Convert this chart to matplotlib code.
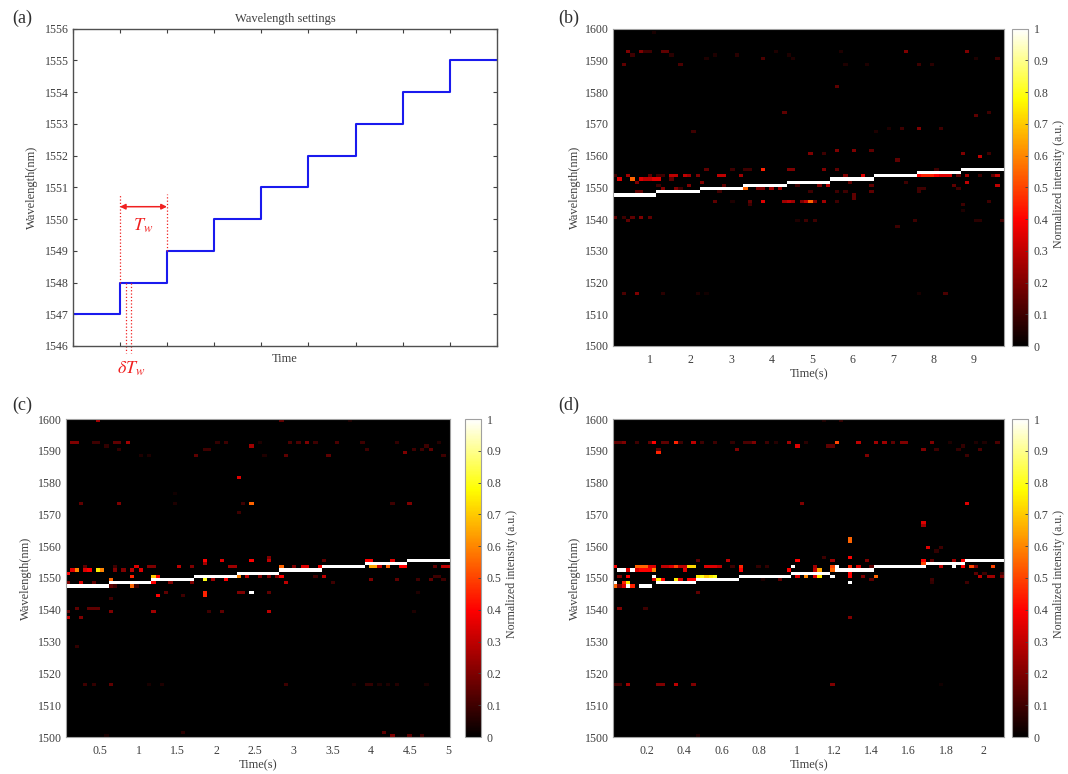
# -*- coding: utf-8 -*-
import matplotlib
matplotlib.use('Agg')
import numpy as np
import matplotlib.pyplot as plt
from matplotlib.colors import LinearSegmentedColormap

plt.rcParams['font.family'] = ['Liberation Serif', 'DejaVu Serif']
plt.rcParams['mathtext.fontset'] = 'stix'

W, H = 1068, 774
GREY = '#404040'
EDGE = '#a0a0a0'

# Echelle de couleur : noir pur au fond, rouge vers 0.4, jaune vers 0.78
hot_black = LinearSegmentedColormap.from_list(
    'hot_black', [(0, '#000000'), (0.4, '#ff0000'), (0.78, '#ffff00'), (1, '#ffffff')], N=256)

# Panel (a) : reglage des longueurs d'onde
step_index = [0, 1, 2, 3, 4, 5, 6, 7, 8, 9]
step_wavelength = [1547, 1548, 1549, 1550, 1551, 1552, 1553, 1554, 1555, 1555]
a_yticks = [1546, 1547, 1548, 1549, 1550, 1551, 1552, 1553, 1554, 1555, 1556]

# Heatmaps : palier principal (longueur d'onde, premiere et derniere trame)
levels = [1547, 1548, 1549, 1550, 1551, 1552, 1553, 1554, 1555]
regular_start = [0, 10, 20, 30, 40, 50, 60, 70, 80]
regular_stop = [10, 20, 30, 40, 50, 60, 70, 80, 90]
d_start = [6, 10, 19, 29, 41, 51, 60, 72, 81]
d_stop = [9, 19, 29, 41, 50, 60, 72, 81, 90]

b_xticks = [1, 2, 3, 4, 5, 6, 7, 8, 9]
c_xticks = [0.5, 1, 1.5, 2, 2.5, 3, 3.5, 4, 4.5, 5]
d_xticks = [0.2, 0.4, 0.6, 0.8, 1, 1.2, 1.4, 1.6, 1.8, 2]
b_xlim = (0.09, 9.74)
c_xlim = (0.06, 5.02)
d_xlim = (0.02, 2.11)
map_yticks = list(range(1500, 1601, 10))
bar_ticks = [0, 0.1, 0.2, 0.3, 0.4, 0.5, 0.6, 0.7, 0.8, 0.9, 1]

# Points parasites : (trame, longueur d'onde, intensite)
b_spots = [
    (1, 1552, .35), (4, 1552, .55), (6, 1552, .35), (7, 1552, .3), (8, 1552, .3), (9, 1552, .35), (10, 1552, .35), (13, 1552, .15),
    (0, 1553, .1), (3, 1553, .25), (8, 1553, .15), (10, 1553, .1), (11, 1553, .1), (13, 1553, .3), (14, 1553, .3), (16, 1553, .3),
    (17, 1553, .25), (19, 1553, .2), (24, 1553, .3), (25, 1553, .3), (29, 1553, .25), (53, 1553, .2), (57, 1553, .35),
    (70, 1553, .4), (71, 1553, .45), (72, 1553, .45), (73, 1553, .45), (74, 1553, .4), (75, 1553, .35), (76, 1553, .35), (77, 1553, .35),
    (79, 1553, .15), (81, 1553, .25), (84, 1553, .1), (87, 1553, .15), (88, 1553, .3),
    (5, 1551, .2), (20, 1551, .2), (54, 1551, .15), (67, 1551, .1), (81, 1551, .3),
    (10, 1550, .1), (17, 1550, .2), (25, 1550, .15), (42, 1550, .1), (47, 1550, .2), (49, 1550, .3), (59, 1550, .15), (78, 1550, .15), (88, 1550, .3),
    (11, 1549, .2), (14, 1549, .2), (15, 1549, .1), (30, 1549, .55), (33, 1549, .2), (34, 1549, .2), (36, 1549, .25), (38, 1549, .25), (70, 1549, .1), (71, 1549, .1), (79, 1549, .1),
    (5, 1548, .15), (6, 1548, .15), (24, 1548, .1), (45, 1548, .1), (51, 1548, .1), (53, 1548, .1), (59, 1548, .15), (70, 1548, .1),
    (55, 1547, .15), (55, 1546, .15),
    (21, 1555, .15), (27, 1555, .1), (30, 1555, .1), (31, 1555, .1), (34, 1555, .45), (40, 1555, .2), (41, 1555, .2), (48, 1555, .2), (51, 1555, .15), (74, 1555, .1),
    (23, 1545, .15), (27, 1545, .05), (31, 1545, .15), (34, 1545, .35), (39, 1545, .25), (40, 1545, .3), (41, 1545, .25), (43, 1545, .2), (44, 1545, .3),
    (45, 1545, .55), (46, 1545, .2), (48, 1545, .25), (51, 1545, .1), (86, 1545, .1), (31, 1544, .1), (80, 1544, .1), (80, 1542, .05),
    (0, 1540, .15), (2, 1540, .1), (4, 1540, .15), (6, 1540, .2), (8, 1540, .15),
    (3, 1539, .15), (42, 1539, .05), (44, 1539, .1), (46, 1539, .1), (69, 1539, .1), (83, 1539, .07), (84, 1539, .07), (89, 1539, .1), (65, 1537, .1),
    (45, 1560, .2), (48, 1560, .1), (80, 1560, .2), (86, 1560, .1), (51, 1561, .2), (55, 1561, .2), (59, 1561, .15), (84, 1559, .3), (65, 1558, .15),
    (3, 1592, .2), (6, 1592, .2), (7, 1592, .1), (8, 1592, .1), (11, 1592, .15), (12, 1592, .15), (67, 1592, .2), (81, 1592, .2), (37, 1592, .05), (52, 1592, .05),
    (4, 1591, .1), (13, 1591, .07), (23, 1591, .05), (28, 1591, .07), (40, 1591, .05),
    (34, 1590, .12), (21, 1590, .05), (88, 1590, .1), (83, 1590, .05), (41, 1590, .05),
    (2, 1588, .15), (15, 1588, .12), (70, 1588, .1), (73, 1588, .07), (53, 1588, .05), (58, 1588, .05),
    (51, 1581, .15), (39, 1573, .15), (86, 1573, .1), (83, 1572, .15), (9, 1598, .04),
    (66, 1568, .1), (70, 1568, .2), (75, 1568, .1), (63, 1568, .05), (18, 1567, .1), (60, 1567, .05),
    (2, 1516, .12), (5, 1516, .2), (11, 1516, .07), (19, 1516, .05), (21, 1516, .03), (70, 1516, .04), (76, 1516, .12),
]

c_spots = [
    (1, 1552, .35), (2, 1552, .6), (4, 1552, .35), (5, 1552, .4), (7, 1552, .75), (8, 1552, .6), (11, 1552, .2), (13, 1552, .2), (15, 1552, .3), (17, 1552, .35),
    (0, 1551, .4), (4, 1553, .15), (11, 1553, .1), (16, 1553, .35), (19, 1553, .2), (20, 1553, .2), (26, 1553, .3), (29, 1553, .2), (38, 1553, .25), (39, 1553, .25),
    (50, 1553, .55), (53, 1553, .2), (55, 1553, .35), (56, 1553, .35), (59, 1553, .4),
    (32, 1555, .4), (36, 1555, .35), (43, 1555, .4), (47, 1555, .3), (47, 1556, .2), (60, 1555, .15), (70, 1555, .4), (71, 1555, .4), (76, 1555, .35), (32, 1554, .25),
    (15, 1550, .45), (20, 1550, .7), (21, 1550, .4), (40, 1550, .6), (42, 1550, .3), (45, 1550, .2), (47, 1550, .2), (49, 1550, .2), (50, 1550, .4), (58, 1550, .1), (60, 1550, .3),
    (43, 1551, .45), (32, 1549, .8), (10, 1549, .55), (20, 1549, .7), (34, 1549, .25), (37, 1549, .4), (71, 1549, .2), (77, 1549, .15), (82, 1549, .1), (85, 1549, .15), (88, 1549, .1),
    (0, 1548, .2), (3, 1548, .35), (6, 1548, .15), (20, 1548, .4), (24, 1548, .2), (29, 1548, .2), (51, 1548, .3), (62, 1548, .1),
    (10, 1547, .15), (11, 1547, .1), (15, 1547, .55), (16, 1547, .1),
    (23, 1545, .15), (32, 1545, .45), (40, 1545, .2), (41, 1545, .2), (43, 1545, 1.0), (47, 1545, .15), (82, 1545, .05),
    (21, 1544, .4), (32, 1544, .45), (27, 1544, .1), (10, 1543, .1),
    (2, 1540, .15), (5, 1540, .15), (6, 1540, .15), (7, 1540, .15),
    (0, 1539, .15), (10, 1539, .2), (20, 1539, .25), (33, 1539, .1), (36, 1539, .15), (47, 1539, .3), (81, 1539, .05), (0, 1537, .3), (3, 1537, .2),
    (71, 1553, .65), (72, 1553, .65), (73, 1553, .3), (75, 1553, .55), (78, 1553, .4), (79, 1553, .4), (86, 1553, .15), (88, 1553, .3), (89, 1553, .3), (86, 1550, .1), (87, 1550, .1),
    (7, 1599, .25), (50, 1599, .15), (66, 1599, .05),
    (1, 1592, .2), (2, 1592, .2), (6, 1592, .1), (7, 1592, .1), (11, 1592, .15), (12, 1592, .15), (14, 1592, .25), (35, 1592, .08), (37, 1592, .1), (45, 1592, .05),
    (52, 1592, .12), (54, 1592, .12), (56, 1592, .2), (58, 1592, .1), (63, 1592, .12), (69, 1592, .1), (77, 1592, .08), (87, 1592, .06),
    (9, 1591, .08), (43, 1591, .25), (84, 1591, .1), (12, 1590, .08), (32, 1590, .1), (33, 1590, .1), (70, 1590, .1), (81, 1590, .1), (83, 1590, .1), (85, 1590, .15),
    (30, 1588, .15), (51, 1588, .15), (61, 1588, .15), (17, 1588, .05), (19, 1588, .05), (46, 1588, .05), (79, 1589, .2), (88, 1588, .1),
    (40, 1581, .35), (25, 1576, .03), (3, 1573, .15), (12, 1573, .2), (25, 1573, .05), (41, 1573, .1), (43, 1573, .55), (76, 1573, .1), (80, 1573, .2), (40, 1570, .1),
    (4, 1516, .1), (6, 1516, .08), (10, 1516, .15), (19, 1516, .04), (22, 1516, .05), (51, 1516, .1), (67, 1516, .04), (70, 1516, .08), (71, 1516, .08), (73, 1516, .05), (75, 1516, .05), (77, 1516, .06), (84, 1516, .04),
    (2, 1528, .08), (27, 1501, .07), (74, 1501, .15), (9, 1500, .04), (76, 1500, .2), (80, 1500, .15), (83, 1500, .1),
]

d_spots = [
    (0, 1553, .4), (5, 1553, .55), (6, 1553, .55), (7, 1553, .55), (8, 1553, .35), (9, 1553, .35), (11, 1553, .3), (12, 1553, .3), (13, 1553, .35), (14, 1553, .5),
    (15, 1553, .3), (16, 1553, .3), (17, 1553, .72), (18, 1553, .72), (21, 1553, .35), (22, 1553, .35), (23, 1553, .35), (24, 1553, .3),
    (29, 1553, .45), (27, 1553, .1), (33, 1553, .08), (35, 1553, .08), (46, 1553, .25), (41, 1553, 1.0), (50, 1553, .5), (51, 1553, 1.0), (54, 1553, .45), (56, 1553, .35), (59, 1553, .15),
    (75, 1553, .3), (78, 1553, 1.0), (80, 1553, .4), (82, 1553, .5), (83, 1553, .2), (87, 1553, .5),
    (1, 1552, 1.0), (2, 1552, 1.0), (4, 1552, 1.0), (3, 1552, .35), (5, 1552, .35), (6, 1552, .4), (7, 1552, .4), (8, 1552, .4), (9, 1552, .6), (16, 1552, .35),
    (29, 1552, .4), (40, 1552, .4), (46, 1552, .3), (47, 1552, .65), (50, 1552, .55), (53, 1552, .3),
    (47, 1551, .7), (54, 1551, .4), (83, 1551, .15), (85, 1551, .1), (89, 1551, .1),
    (1, 1550, .2), (3, 1550, .4), (9, 1550, 1.0), (19, 1550, .75), (20, 1550, .8), (21, 1550, .7), (22, 1550, .75), (23, 1550, .8),
    (42, 1550, .35), (44, 1550, .6), (46, 1550, .35), (47, 1550, .75), (50, 1550, 1.0), (54, 1550, .4), (57, 1550, .2), (60, 1550, .55), (84, 1550, .3), (86, 1550, .25), (87, 1550, .25), (89, 1550, .2),
    (9, 1549, .35), (10, 1549, .75), (11, 1549, .4), (14, 1549, .75), (15, 1549, .35), (17, 1549, .4), (18, 1549, .4), (34, 1549, .05), (38, 1549, .15), (59, 1549, .15), (73, 1549, .1),
    (0, 1548, 1.0), (2, 1548, .45), (3, 1548, .75), (54, 1548, 1.0), (73, 1548, .08), (81, 1548, .1),
    (0, 1547, .55), (1, 1547, .2), (2, 1547, .35), (3, 1547, 1.0), (4, 1547, .45),
    (19, 1555, .15), (26, 1555, .3), (42, 1555, .4), (50, 1555, .25), (58, 1555, .2), (71, 1555, .4), (73, 1555, .15), (78, 1555, .25), (80, 1555, .4),
    (71, 1554, .5), (73, 1554, .5), (48, 1556, .1), (54, 1556, .4), (19, 1545, .15),
    (75, 1559, .1), (72, 1559, .35), (74, 1558, .08), (54, 1561, .55), (54, 1562, .55), (71, 1566, .25), (54, 1537, .2), (1, 1540, .2), (7, 1540, .1),
    (48, 1599, .05), (52, 1599, .08),
    (0, 1592, .15), (1, 1592, .15), (2, 1592, .2), (5, 1592, .1), (8, 1592, .15), (9, 1592, .4), (11, 1592, .15), (12, 1592, .15), (14, 1592, .45), (15, 1592, .1), (18, 1592, .3), (20, 1592, .1),
    (23, 1592, .1), (27, 1592, .08), (30, 1592, .12), (31, 1592, .12), (32, 1592, .2), (35, 1592, .1), (37, 1592, .06), (40, 1592, .25), (44, 1592, .07), (51, 1592, .5), (56, 1592, .3),
    (60, 1592, .25), (62, 1592, .25), (64, 1592, .15), (66, 1592, .2), (67, 1592, .2), (73, 1592, .2), (77, 1592, .05), (83, 1592, .05), (85, 1592, .05), (88, 1592, .12),
    (42, 1591, .35), (49, 1591, .15), (50, 1591, .15), (80, 1591, .08),
    (28, 1590, .2), (10, 1590, .15), (71, 1590, .2), (74, 1590, .1), (79, 1590, .08), (84, 1590, .12), (10, 1589, .45), (58, 1588, .2), (81, 1588, .1),
    (43, 1573, .2), (81, 1573, .35), (71, 1567, .35),
    (0, 1516, .1), (1, 1516, .1), (3, 1516, .25), (10, 1516, .2), (11, 1516, .2), (14, 1516, .3), (18, 1516, .2), (50, 1516, .2), (75, 1516, .03), (19, 1500, .05),
]


def rect(left, top, right, bottom):
    return [left / W, 1 - bottom / H, (right - left) / W, (bottom - top) / H]


def label(x, y, s, **kw):
    kw.setdefault('color', GREY)
    kw.setdefault('fontsize', 9)
    return fig.text(x / W, 1 - y / H, s, ha='center', va='center', **kw)


# On remplit la matrice a partir des paliers et des points releves
def build_map(spots, start, stop):
    grid = np.zeros((100, 90))
    for frame, wl, val in spots:
        grid[wl - 1500, frame] = val
    for wl, f0, f1 in zip(levels, start, stop):
        grid[wl - 1500, f0:f1] = 1.0
    return grid


def heatmap(box, bar, spots, start, stop, xlim, xticks, ylab_x, cbar_lab_x):
    ax = fig.add_axes(rect(*box))
    im = ax.imshow(build_map(spots, start, stop), origin='lower', aspect='auto', cmap=hot_black, vmin=0, vmax=1,
                   extent=(xlim[0], xlim[1], 1500, 1600), interpolation='nearest')
    ax.set_xticks(xticks)
    ax.set_xticklabels([f'{t:g}' for t in xticks])
    ax.set_yticks(map_yticks)
    ax.tick_params(length=0, labelsize=8.6, labelcolor=GREY)
    ax.tick_params(axis='x', pad=6)
    ax.tick_params(axis='y', pad=3)
    for s in ax.spines.values():
        s.set_color(EDGE)
    cax = fig.add_axes(rect(*bar))
    cb = fig.colorbar(im, cax=cax)
    cb.set_ticks(bar_ticks)
    cb.set_ticklabels([f'{t:g}' for t in bar_ticks])
    cb.ax.tick_params(direction='in', length=2.5, width=0.6, color=GREY, labelsize=8.6, labelcolor=GREY, pad=4)
    cb.outline.set_edgecolor(EDGE)
    mid_x = (box[0] + box[2]) / 2
    label(mid_x, box[3] + 28, 'Time(s)')
    label(ylab_x, (box[1] + box[3]) / 2, 'Wavelength(nm)', rotation=90)
    label(cbar_lab_x, box[1] + 155, 'Normalized intensity (a.u.)', rotation=90, fontsize=8.6)
    return ax


fig = plt.figure(figsize=(W / 100, H / 100), dpi=100)

# (a)
ax = fig.add_axes(rect(72.7, 28.7, 497, 346))
ax.step(step_index, step_wavelength, where='post', color='#1a1aee', lw=1.5)
ax.set_xlim(0, 9)
ax.set_ylim(1546, 1556)
ax.set_xticks(step_index)
ax.set_xticklabels([])
ax.set_yticks(a_yticks)
ax.tick_params(direction='in', length=3, width=0.8, color=GREY, labelsize=8.6, labelcolor=GREY, top=True, right=True, pad=3)
for s in ax.spines.values():
    s.set_color('#505050')
    s.set_linewidth(1.0)

red = '#f02020'
dots = dict(color=red, ls=':', lw=0.9, clip_on=False)
ax.plot([1, 1], [1548, 1550.8], **dots)
ax.plot([2, 2], [1549, 1550.8], **dots)
ax.plot([1.13, 1.13], [1548, 1545.78], **dots)
ax.plot([1.23, 1.23], [1548, 1545.78], **dots)
ax.annotate('', xy=(1, 1550.39), xytext=(2, 1550.39),
            arrowprops=dict(arrowstyle='<|-|>', color=red, lw=1.1, shrinkA=0, shrinkB=0, mutation_scale=8))
ax.text(1.5, 1549.78, r'$T_w$', color=red, fontsize=13, ha='center', va='center')
label(131, 369, r'$\delta T_w$', color=red, fontsize=13)
label(285, 19, 'Wavelength settings')
label(285, 359, 'Time')
label(32, 187, 'Wavelength(nm)', rotation=90)

# (b), (c), (d)
heatmap((613.3, 28.7, 1004, 346), (1012, 28.7, 1028, 346), b_spots, regular_start, regular_stop, b_xlim, b_xticks, 575, 1059)
heatmap((66, 419, 450, 737), (465, 419, 481, 737), c_spots, regular_start, regular_stop, c_xlim, c_xticks, 26, 512)
heatmap((613.3, 419, 1004, 737), (1012, 419, 1028, 737), d_spots, d_start, d_stop, d_xlim, d_xticks, 575, 1059)

label(22, 18, '(a)', fontsize=13, color='#303030')
label(569, 18, '(b)', fontsize=13, color='#303030')
label(22, 405, '(c)', fontsize=13, color='#303030')
label(569, 405, '(d)', fontsize=13, color='#303030')

fig.savefig('out.png', dpi=100, facecolor='white')
